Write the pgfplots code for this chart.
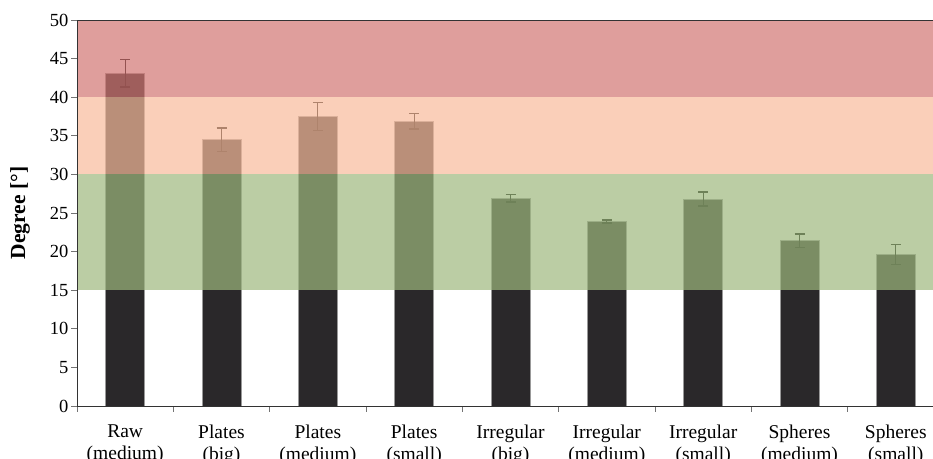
\documentclass[border=0pt]{standalone}
\usepackage{pgfplots}
\usepackage{pgfplotstable}
\pgfplotsset{compat=1.18}
\usepackage{fontspec}
\setmainfont{Liberation Serif}

\definecolor{bandgreen}{RGB}{158,184,126}
\definecolor{bandpeach}{RGB}{248,187,155}
\definecolor{bandred}{RGB}{210,117,114}
\definecolor{barfill}{RGB}{42,40,42}

% mean angle and standard deviation per sample
\pgfplotstableread{
x y err
0 43.1 1.8
1 34.5 1.5
2 37.5 1.8
3 36.9 1.0
4 26.9 0.5
5 23.9 0.2
6 26.8 0.9
7 21.4 0.9
8 19.6 1.3
}\angles

\begin{document}
\begin{tikzpicture}
\begin{axis}[
  scale only axis,
  width=867pt, height=386pt,
  xmin=-0.5, xmax=8.5, ymin=0, ymax=50,
  axis on top,
  tick pos=left,
  tick align=outside,
  ytick={0,5,...,50},
  xtick={0,...,8},
  xticklabels={{Raw\\(medium)},{Plates\\(big)},{Plates\\(medium)},{Plates\\(small)},
    {Irregular\\(big)},{Irregular\\(medium)},{Irregular\\(small)},{Spheres\\(medium)},{Spheres\\(small)}},
  xticklabel style={align=center, font=\fontsize{19.5}{22}\selectfont, yshift=-9pt},
  yticklabel style={font=\fontsize{18.5}{21}\selectfont, xshift=1pt},
  /pgf/number format/assume math mode=true,
  major x tick style={draw=none},
  minor xtick={-0.5,0.5,...,8.5},
  major tick length=6pt, minor tick length=6pt,
  every tick/.style={black!55, line width=0.8pt},
  axis line style={black!80, line width=0.9pt},
  ylabel={\bfseries Degree [°]},
  ylabel style={font=\fontsize{21.5}{24}\selectfont, at={(rel axis cs:0,0.5)}, anchor=center, yshift=57pt},
]
\coordinate (bl) at (rel axis cs:0,0);
\coordinate (tl) at (rel axis cs:0,1);

\addplot[ybar, bar width=39pt, fill=barfill, draw=black!40, line width=0.8pt,
  error bars/.cd, y dir=both, y explicit,
  error bar style={line width=1.1pt, black},
  error mark options={rotate=90, mark size=5pt, line width=1.4pt, black}]
  table[x=x, y=y, y error=err]{\angles};

% acceptance bands
\addplot[draw=none, fill=bandgreen, fill opacity=0.7]
  coordinates {(-0.5,15) (8.5,15) (8.5,30) (-0.5,30)} -- cycle;
\addplot[draw=none, fill=bandpeach, fill opacity=0.7]
  coordinates {(-0.5,30) (8.5,30) (8.5,40) (-0.5,40)} -- cycle;
\addplot[draw=none, fill=bandred, fill opacity=0.7]
  coordinates {(-0.5,40) (8.5,40) (8.5,50) (-0.5,50)} -- cycle;
\end{axis}
\pgfresetboundingbox
\path[use as bounding box] ([xshift=-77pt,yshift=-53pt]bl) rectangle ([xshift=856pt,yshift=20pt]tl);
\end{tikzpicture}
\end{document}
